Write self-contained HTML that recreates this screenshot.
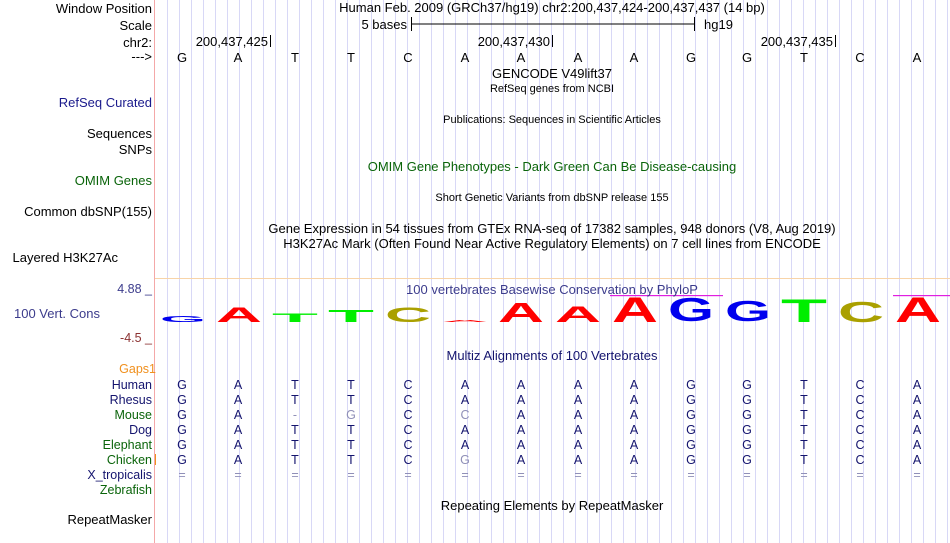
<!DOCTYPE html>
<html><head><meta charset="utf-8"><style>
html,body{margin:0;padding:0;background:#fff;}
svg{display:block;font-family:"Liberation Sans",sans-serif;}
</style></head><body>
<svg width="950" height="543" xmlns="http://www.w3.org/2000/svg">
<defs>
<pattern id="grid" x="167" y="0" width="12" height="543" patternUnits="userSpaceOnUse">
<rect x="0" y="0" width="1" height="543" fill="#d8d8f6"/>
</pattern>
</defs>
<rect x="156" y="0" width="794" height="543" fill="url(#grid)"/>
<rect x="154" y="0" width="1" height="543" fill="#f4a8a8"/>
<rect x="155" y="278" width="795" height="1" fill="#f8d4a8"/>
<rect x="610" y="295" width="113" height="1.2" fill="#e020e0"/>
<rect x="893" y="295" width="57" height="1.2" fill="#e020e0"/>

<g font-size="13" text-anchor="end" fill="#000">
<text x="152" y="13">Window Position</text>
<text x="152" y="30">Scale</text>
<text x="152" y="47">chr2:</text>
<text x="152" y="61">---&gt;</text>
<text x="152" y="107" fill="#1a1a8c">RefSeq Curated</text>
<text x="152" y="138">Sequences</text>
<text x="152" y="154">SNPs</text>
<text x="152" y="185" fill="#0a640a">OMIM Genes</text>
<text x="152" y="216">Common dbSNP(155)</text>
<text x="118" y="262">Layered H3K27Ac</text>
<text x="152" y="293" fill="#3c3c8c" font-size="12.5">4.88 _</text>
<text x="100" y="318" fill="#3c3c8c" font-size="13">100 Vert. Cons</text>
<text x="152" y="342" fill="#8c3232" font-size="12.5">-4.5 _</text>
<text x="156" y="373" fill="#f0901e" font-size="12.5">Gaps1</text>
<text x="152" y="389" fill="#14146e" font-size="12.5">Human</text>
<text x="152" y="404" fill="#14146e" font-size="12.5">Rhesus</text>
<text x="152" y="419" fill="#0a640a" font-size="12.5">Mouse</text>
<text x="152" y="434" fill="#14146e" font-size="12.5">Dog</text>
<text x="152" y="449" fill="#0a640a" font-size="12.5">Elephant</text>
<text x="152" y="464" fill="#0a640a" font-size="12.5">Chicken</text>
<text x="152" y="479" fill="#14146e" font-size="12.5">X_tropicalis</text>
<text x="152" y="494" fill="#0a640a" font-size="12.5">Zebrafish</text>
<text x="152" y="524">RepeatMasker</text>
</g>
<rect x="155" y="454" width="1" height="11" fill="#f0901e"/>

<g font-size="13" text-anchor="middle">
<text x="552" y="12">Human Feb. 2009 (GRCh37/hg19)   chr2:200,437,424-200,437,437 (14 bp)</text>
<text x="552" y="78">GENCODE V49lift37</text>
<text x="552" y="92" font-size="11">RefSeq genes from NCBI</text>
<text x="552" y="123" font-size="11">Publications: Sequences in Scientific Articles</text>
<text x="552" y="171" fill="#0a640a">OMIM Gene Phenotypes - Dark Green Can Be Disease-causing</text>
<text x="552" y="201" font-size="11">Short Genetic Variants from dbSNP release 155</text>
<text x="552" y="233">Gene Expression in 54 tissues from GTEx RNA-seq of 17382 samples, 948 donors (V8, Aug 2019)</text>
<text x="552" y="248">H3K27Ac Mark (Often Found Near Active Regulatory Elements) on 7 cell lines from ENCODE</text>
<text x="552" y="294" fill="#3c3c8c">100 vertebrates Basewise Conservation by PhyloP</text>
<text x="552" y="360" fill="#14146e">Multiz Alignments of 100 Vertebrates</text>
<text x="552" y="510">Repeating Elements by RepeatMasker</text>
</g>

<g font-size="13">
<text x="407" y="29" text-anchor="end">5 bases</text>
<text x="704" y="29">hg19</text>
<text x="268" y="46" text-anchor="end">200,437,425</text>
<text x="550" y="46" text-anchor="end">200,437,430</text>
<text x="833" y="46" text-anchor="end">200,437,435</text>
</g>
<rect x="411" y="23.5" width="284" height="1" fill="#000"/>
<rect x="411" y="17" width="1" height="14" fill="#000"/>
<rect x="694" y="17" width="1" height="14" fill="#000"/>
<rect x="270" y="35" width="1" height="12" fill="#000"/>
<rect x="552" y="35" width="1" height="12" fill="#000"/>
<rect x="835" y="35" width="1" height="12" fill="#000"/>

<g font-size="13" text-anchor="middle">
<text x="182" y="62">G</text><text x="238" y="62">A</text><text x="295" y="62">T</text><text x="351" y="62">T</text><text x="408" y="62">C</text><text x="465" y="62">A</text><text x="521" y="62">A</text><text x="578" y="62">A</text><text x="634" y="62">A</text><text x="691" y="62">G</text><text x="747" y="62">G</text><text x="804" y="62">T</text><text x="860" y="62">C</text><text x="917" y="62">A</text>
</g>

<g font-size="20" font-weight="bold" text-anchor="middle">
<text transform="translate(183,322) scale(1,0.42)" fill="#0000ee" textLength="46" lengthAdjust="spacingAndGlyphs">G</text>
<text transform="translate(239,322) scale(1,1.05)" fill="#ff0000" textLength="46" lengthAdjust="spacingAndGlyphs">A</text>
<text transform="translate(295,322) scale(1,0.6)" fill="#00ee00" textLength="46" lengthAdjust="spacingAndGlyphs">T</text>
<text transform="translate(351,322) scale(1,0.87)" fill="#00ee00" textLength="46" lengthAdjust="spacingAndGlyphs">T</text>
<text transform="translate(408,322) scale(1,1.05)" fill="#aaa000" textLength="46" lengthAdjust="spacingAndGlyphs">C</text>
<text transform="translate(465,322) scale(1,0.14)" fill="#ff0000" textLength="46" lengthAdjust="spacingAndGlyphs">A</text>
<text transform="translate(521,322) scale(1,1.4)" fill="#ff0000" textLength="46" lengthAdjust="spacingAndGlyphs">A</text>
<text transform="translate(578,322) scale(1,1.12)" fill="#ff0000" textLength="46" lengthAdjust="spacingAndGlyphs">A</text>
<text transform="translate(635,322) scale(1,1.75)" fill="#ff0000" textLength="46" lengthAdjust="spacingAndGlyphs">A</text>
<text transform="translate(691,321) scale(1,1.65)" fill="#0000ee" textLength="46" lengthAdjust="spacingAndGlyphs">G</text>
<text transform="translate(748,321) scale(1,1.45)" fill="#0000ee" textLength="46" lengthAdjust="spacingAndGlyphs">G</text>
<text transform="translate(804,322) scale(1,1.6)" fill="#00ee00" textLength="46" lengthAdjust="spacingAndGlyphs">T</text>
<text transform="translate(861,322) scale(1,1.45)" fill="#aaa000" textLength="46" lengthAdjust="spacingAndGlyphs">C</text>
<text transform="translate(918,322) scale(1,1.75)" fill="#ff0000" textLength="46" lengthAdjust="spacingAndGlyphs">A</text>
</g>

<g font-size="12.5" text-anchor="middle" fill="#14146e">
<text x="182" y="389">G</text><text x="238" y="389">A</text><text x="295" y="389">T</text><text x="351" y="389">T</text><text x="408" y="389">C</text><text x="465" y="389">A</text><text x="521" y="389">A</text><text x="578" y="389">A</text><text x="634" y="389">A</text><text x="691" y="389">G</text><text x="747" y="389">G</text><text x="804" y="389">T</text><text x="860" y="389">C</text><text x="917" y="389">A</text>
<text x="182" y="404">G</text><text x="238" y="404">A</text><text x="295" y="404">T</text><text x="351" y="404">T</text><text x="408" y="404">C</text><text x="465" y="404">A</text><text x="521" y="404">A</text><text x="578" y="404">A</text><text x="634" y="404">A</text><text x="691" y="404">G</text><text x="747" y="404">G</text><text x="804" y="404">T</text><text x="860" y="404">C</text><text x="917" y="404">A</text>
<text x="182" y="419">G</text><text x="238" y="419">A</text><text x="295" y="419" fill="#9090b8">-</text><text x="351" y="419" fill="#9090b8">G</text><text x="408" y="419">C</text><text x="465" y="419" fill="#9090b8">C</text><text x="521" y="419">A</text><text x="578" y="419">A</text><text x="634" y="419">A</text><text x="691" y="419">G</text><text x="747" y="419">G</text><text x="804" y="419">T</text><text x="860" y="419">C</text><text x="917" y="419">A</text>
<text x="182" y="434">G</text><text x="238" y="434">A</text><text x="295" y="434">T</text><text x="351" y="434">T</text><text x="408" y="434">C</text><text x="465" y="434">A</text><text x="521" y="434">A</text><text x="578" y="434">A</text><text x="634" y="434">A</text><text x="691" y="434">G</text><text x="747" y="434">G</text><text x="804" y="434">T</text><text x="860" y="434">C</text><text x="917" y="434">A</text>
<text x="182" y="449">G</text><text x="238" y="449">A</text><text x="295" y="449">T</text><text x="351" y="449">T</text><text x="408" y="449">C</text><text x="465" y="449">A</text><text x="521" y="449">A</text><text x="578" y="449">A</text><text x="634" y="449">A</text><text x="691" y="449">G</text><text x="747" y="449">G</text><text x="804" y="449">T</text><text x="860" y="449">C</text><text x="917" y="449">A</text>
<text x="182" y="464">G</text><text x="238" y="464">A</text><text x="295" y="464">T</text><text x="351" y="464">T</text><text x="408" y="464">C</text><text x="465" y="464" fill="#9090b8">G</text><text x="521" y="464">A</text><text x="578" y="464">A</text><text x="634" y="464">A</text><text x="691" y="464">G</text><text x="747" y="464">G</text><text x="804" y="464">T</text><text x="860" y="464">C</text><text x="917" y="464">A</text>
<g fill="#9090b8"><text x="182" y="479">=</text><text x="238" y="479">=</text><text x="295" y="479">=</text><text x="351" y="479">=</text><text x="408" y="479">=</text><text x="465" y="479">=</text><text x="521" y="479">=</text><text x="578" y="479">=</text><text x="634" y="479">=</text><text x="691" y="479">=</text><text x="747" y="479">=</text><text x="804" y="479">=</text><text x="860" y="479">=</text><text x="917" y="479">=</text></g>
</g>
</svg>
</body></html>
